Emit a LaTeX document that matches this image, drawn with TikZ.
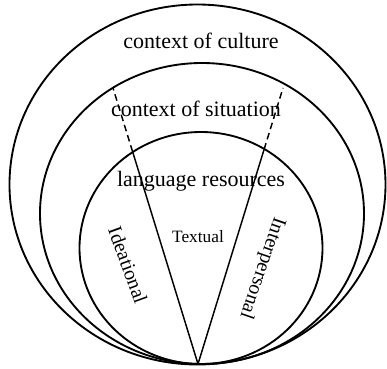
\documentclass[tikz,border=0pt]{standalone}
\usepackage{fontspec}
\setmainfont{Liberation Serif}
\usetikzlibrary{calc,positioning}

\begin{document}
\begin{tikzpicture}[x=0.75pt,y=-0.75pt,every node/.style={inner sep=0pt},
  ring/.style={line width=1.4pt},
  big/.style={font=\fontsize{16.5}{18}\selectfont},
  small/.style={font=\fontsize{15}{17}\selectfont}]
  \useasboundingbox (0,0) rectangle (387,369);
  % the three contexts
  \draw[ring] (197.5,184.5) ellipse (188 and 180);
  \draw[ring] (202,213.5) ellipse (162 and 150.5);
  \draw[ring] (201,248) ellipse (121.5 and 116);
  % lines from the bottom point
  \coordinate (o) at (198,364);
  \coordinate (l) at (113,88);
  \coordinate (r) at (283,88);
  \coordinate (li) at ($(o)!0.7695!(l)$);
  \coordinate (ri) at ($(o)!0.777!(r)$);
  \draw[line width=1.1pt] (o) -- (li);
  \draw[line width=1.1pt] (o) -- (ri);
  \draw[line width=1.1pt,dash pattern=on 5pt off 3pt] (li) -- (l);
  \draw[line width=1.1pt,dash pattern=on 5pt off 3pt] (ri) -- (r);
  % labels
  \node[big] (cul) at (201,41) {context of culture};
  \node[big] (sit) at (196,109) {context of situation};
  \node[big] (lang) at (201,181) {language resources};
  \node[font=\fontsize{13}{15}\selectfont] (txt) at (198,237) {Textual};
  \node[small,rotate=-70] (idea) at (128,265) {Ideational};
  \node[small,rotate=-109] (inter) at (262,268) {Interpersonal};
\end{tikzpicture}
\end{document}
